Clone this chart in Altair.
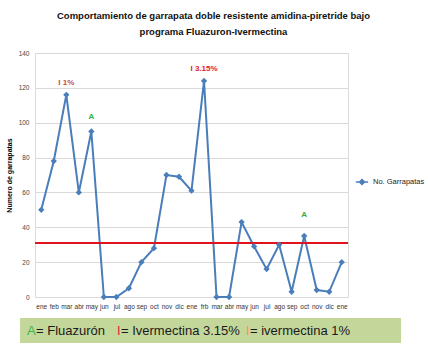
import altair as alt
import pandas as pd

months = ["ene", "feb", "mar", "abr", "may", "jun", "jul", "ago", "sep", "oct", "nov", "dic",
          "ene", "frb", "mar", "abr", "may", "jun", "jul", "ago", "sep", "oct", "nov", "dic", "ene"]
garrapatas = [50, 78, 116, 60, 95, 0, 0, 5, 20, 28, 70, 69,
              61, 124, 0, 0, 43, 29, 16, 30, 3, 35, 4, 3, 20]
threshold = [31]

ann_idx = [2, 4, 13, 21]
ann_y = [123, 103, 131, 47]
ann_text = ["I 1%", "A", "I 3.15%", "A"]
ann_color = ["#C0504D", "#2EAF4A", "#E8202A", "#2EAF4A"]

series_name = "No. Garrapatas"
BLUE = "#4A7EBB"
FONT = "Liberation Sans"

df = pd.DataFrame({"i": list(range(len(months))), "v": garrapatas, "s": series_name})
ann = pd.DataFrame({"i": ann_idx, "v": ann_y, "t": ann_text, "c": ann_color})
thr = pd.DataFrame({"v": threshold})

label_array = "[" + ",".join("'%s'" % m for m in months) + "]"

x_enc = alt.X("i:O", title=None, sort=None,
              axis=alt.Axis(labelExpr=label_array + "[datum.value]", labelAngle=0,
                            labelFontSize=6.5, labelColor="#333333", ticks=False,
                            domainColor="#D9D9D9", labelPadding=6, grid=False, labelFont=FONT))
y_enc = alt.Y("v:Q", title="Numero de garrapatas",
              scale=alt.Scale(domain=[0, 140], nice=False),
              axis=alt.Axis(values=[0, 20, 40, 60, 80, 100, 120, 140], grid=True,
                            gridColor="#D9D9D9", domain=False, ticks=False,
                            labelFontSize=6.5, labelColor="#444444", labelPadding=6,
                            labelFont=FONT, titleFont=FONT,
                            titleFontSize=7, titleFontWeight="bold", titlePadding=6))

color_enc = alt.Color("s:N", scale=alt.Scale(range=[BLUE]),
                      legend=alt.Legend(title=None, orient="none", legendX=320, legendY=122,
                                        labelFontSize=7.5, labelColor="#222222", labelFont=FONT,
                                        symbolType="M-1,0H1M0,-0.4L0.4,0L0,0.4L-0.4,0Z",
                                        symbolFillColor=BLUE, symbolStrokeColor=BLUE,
                                        symbolStrokeWidth=1.5, symbolSize=150))

line = alt.Chart(df).mark_line(strokeWidth=2).encode(x=x_enc, y=y_enc, color=color_enc)
pts = alt.Chart(df).mark_point(shape="diamond", filled=True, size=40, opacity=1).encode(
    x=x_enc, y=y_enc, color=alt.Color("s:N", legend=None))

rule = alt.Chart(thr).mark_rule(color="#E0141E", strokeWidth=2).encode(y=y_enc)

labels = alt.Chart(ann).mark_text(fontSize=8, fontWeight="bold", font=FONT).encode(
    x=x_enc, y=y_enc, text="t:N", color=alt.Color("c:N", scale=None))

# bottom key box
box = alt.Chart(thr).mark_rect(color="#C4D79B").encode(
    x=alt.value(-15), x2=alt.value(366), y=alt.value(265), y2=alt.value(290))

def key_text(txt, xpos, col):
    return alt.Chart(thr).mark_text(text=txt, align="left", baseline="middle", fontSize=13,
                                    font=FONT, color=col).encode(
        x=alt.value(xpos), y=alt.value(278))

keys = [
    key_text("A", -8, "#3DB54A"),
    key_text("= Fluazurón", 1, "#1a1a1a"),
    key_text("I", 82, "#E8202A"),
    key_text("= Ivermectina 3.15%", 86, "#1a1a1a"),
    key_text("I", 211, "#F79646"),
    key_text("= ivermectina 1%", 215, "#1a1a1a"),
]

chart = alt.layer(line, box, *keys, rule, pts, labels).properties(
    width=313, height=244,
    title=alt.TitleParams(["Comportamiento de garrapata doble resistente amidina-piretride bajo",
                           "programa Fluazuron-Ivermectina"],
                          fontSize=9.5, fontWeight="bold", font=FONT,
                          anchor="middle", dx=22, offset=14, lineHeight=16, color="#111111"),
    autosize=alt.AutoSizeParams(type="none"),
    padding={"left": 35, "top": 53, "right": 80, "bottom": 54},
).configure_view(stroke=None).configure(background="white")

chart.save("out.html", embed_options={"renderer": "svg", "actions": False})
